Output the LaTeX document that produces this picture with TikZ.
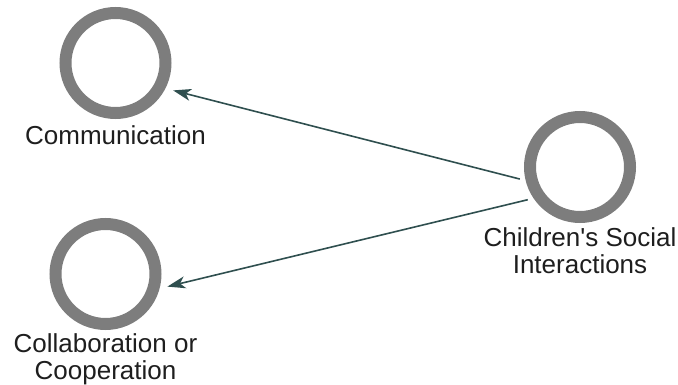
\documentclass[tikz,border=0pt]{standalone}
\usepackage{fontspec}
\setmainfont{Liberation Sans}
\newfontfamily\labelfont{Liberation Sans}
\usetikzlibrary{arrows.meta, positioning}

\definecolor{ringgray}{RGB}{125,125,125}
\definecolor{linkcol}{RGB}{47,79,79}
\definecolor{textcol}{RGB}{30,30,30}

\begin{document}
\begin{tikzpicture}[x=1pt, y=-1pt,
    ring/.style={circle, draw=ringgray, line width=12pt, minimum size=100pt, inner sep=0pt},
    lbl/.style={text=textcol, align=center, inner sep=0pt, outer sep=0pt,
        font=\labelfont\fontsize{26}{26.5}\selectfont},
    conn/.style={draw=linkcol, line width=1.6pt, -{Stealth[length=18pt, width=12pt, inset=5pt]},
        shorten <=6pt, shorten >=8pt}]
    \useasboundingbox (0,0) rectangle (678,385);

    % circles
    \node[ring] (comm) at (115.5,63) {};
    \node[ring] (collab) at (105.5,274) {};
    \node[ring] (social) at (580,167) {};

    % labels
    \node[lbl, below=7pt of comm] (commlbl) {Communication};
    \node[lbl, below=4pt of collab] (collablbl) {Collaboration or\\Cooperation};
    \node[lbl, below=5pt of social] (sociallbl) {Children's Social\\Interactions};

    % links
    \draw[conn] (social.194) -- (comm.333);
    \draw[conn] (social.214) -- (collab.345);
\end{tikzpicture}
\end{document}
